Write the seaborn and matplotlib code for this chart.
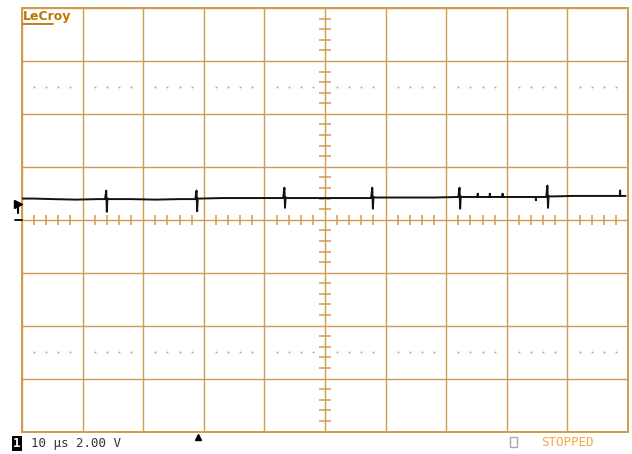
import numpy as np
import pandas as pd
import seaborn as sns
from matplotlib import pyplot as plt
from matplotlib.lines import Line2D
from matplotlib.patches import Rectangle

# trace: time in µs, channel 1 in volts (2 V/div)
time_us = [
    0.0, 2.0, 5.0, 9.0, 12.5, 13.7, 13.9, 14.0, 14.1, 14.4,
    18.0, 22.0, 26.0, 28.6, 28.8, 28.9, 29.0, 29.3,
    33.0, 38.0, 43.1, 43.3, 43.4, 43.5, 43.8,
    48.0, 53.0, 57.6, 57.8, 57.9, 58.0, 58.3,
    63.0, 68.0, 72.0, 72.2, 72.3, 72.4, 72.7,
    75.2, 75.2, 75.2, 77.2, 77.2, 77.2, 79.3, 79.3, 79.3,
    82.0, 84.8, 84.8, 84.8, 86.5, 86.7, 86.8, 86.9, 87.2,
    91.0, 95.0, 98.7, 98.7, 98.7, 99.6,
]
volts = [
    0.80, 0.80, 0.78, 0.76, 0.78, 0.78, 1.10, 0.30, 0.80, 0.78,
    0.78, 0.76, 0.78, 0.78, 1.10, 0.32, 0.80, 0.80,
    0.82, 0.82, 0.82, 1.21, 0.45, 0.84, 0.82,
    0.82, 0.82, 0.82, 1.21, 0.42, 0.86, 0.84,
    0.84, 0.84, 0.86, 1.21, 0.42, 0.88, 0.86,
    0.86, 0.98, 0.86, 0.86, 0.98, 0.86, 0.86, 0.98, 0.86,
    0.86, 0.86, 0.74, 0.86, 0.86, 1.29, 0.45, 0.90, 0.88,
    0.90, 0.90, 0.90, 1.10, 0.90, 0.90,
]

time_div = 10.0      # µs per division
volt_div = 2.00      # V per division
n_xdiv, n_ydiv = 10, 8
trigger_us = 29.0
ground_marker_v = 0.6

GRID = "#d09c52"
ORANGE = "#b87800"

sns.set_style("white")

fig = plt.figure(figsize=(6.32, 4.54), dpi=100)
ax = fig.add_axes([22 / 632, 22.5 / 454, 606 / 632, 423.5 / 454])

df = pd.DataFrame({"t": time_us, "v": volts})
sns.lineplot(data=df, x="t", y="v", ax=ax, sort=False, estimator=None,
             color="#111111", linewidth=1.4, zorder=5)

t_max = n_xdiv * time_div
v_max = n_ydiv / 2 * volt_div
ax.set_xlim(0, t_max)
ax.set_ylim(-v_max, v_max)

# graticule
for t in np.arange(0, t_max + 1, time_div):
    ax.axvline(t, color=GRID, lw=1.0, zorder=1)
for v in np.arange(-v_max, v_max + 0.1, volt_div):
    ax.axhline(v, color=GRID, lw=1.0, zorder=1)

minor_t = [t for t in np.arange(0, t_max, time_div / 5) if t % time_div != 0]
minor_v = [v for v in np.arange(-v_max, v_max, volt_div / 5)
           if abs(v / volt_div - round(v / volt_div)) > 1e-6]
ax.plot(minor_t, [0] * len(minor_t), ls="none", marker="|", ms=7,
        mew=1.1, color=GRID, zorder=2)
ax.plot([t_max / 2] * len(minor_v), minor_v, ls="none", marker="_", ms=9,
        mew=1.1, color=GRID, zorder=2)
for v in (2.5 * volt_div, -2.5 * volt_div):
    ax.plot(minor_t, [v] * len(minor_t), ls="none", marker="s", ms=1.2,
            mew=0, color=GRID, zorder=2)

for spine in ax.spines.values():
    spine.set_color(GRID)
    spine.set_linewidth(1.4)
ax.set_xticks([])
ax.set_yticks([])
ax.set_xlabel("")
ax.set_ylabel("")

# trigger position and channel ground markers
ax.plot([trigger_us], [-v_max - 0.2], marker="^", ms=4, color="black",
        clip_on=False, zorder=6)
ax.plot([-0.65], [ground_marker_v], marker=">", ms=6, color="black",
        clip_on=False, zorder=6)
ax.plot([-0.65, -0.65], [ground_marker_v, 0.25], color="black", lw=1.5,
        clip_on=False, zorder=6)
ax.plot([-1.2, 0], [0, 0], color="black", lw=1.3, clip_on=False, zorder=6)

# labels
fig.text(23 / 632, 1 - 16.5 / 454, "LeCroy", fontsize=9, fontweight="bold",
         color=ORANGE, va="center", ha="left",
         family=["Liberation Sans Narrow", "DejaVu Sans"])
fig.add_artist(Line2D([23 / 632, 53 / 632], [1 - 23.5 / 454] * 2,
                      color=ORANGE, lw=1.3))

fig.text(17 / 632, 1 - 443.5 / 454, "1", fontsize=9, fontweight="bold",
         color="white", ha="center", va="center", family="DejaVu Sans Mono",
         bbox=dict(facecolor="black", edgecolor="none", pad=0.9))
fig.text(31 / 632, 1 - 443 / 454, "10 µs 2.00 V", fontsize=9,
         color="#333333", ha="left", va="center", family="DejaVu Sans Mono")
fig.add_artist(Rectangle((509.5 / 632, 1 - 447 / 454), 7 / 632, 10 / 454,
                         fill=False, edgecolor="#aaaaaa", lw=1.0))
fig.text(541 / 632, 1 - 443 / 454, "STOPPED", fontsize=9,
         color="#f5a83c", ha="left", va="center", family="DejaVu Sans Mono")

fig.savefig("out.png", dpi=100)
